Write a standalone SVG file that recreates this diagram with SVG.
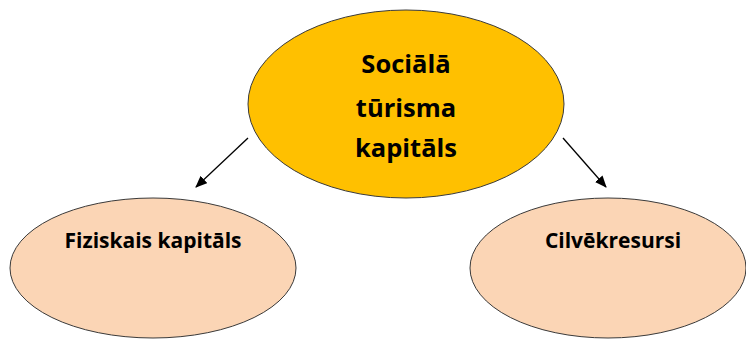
<svg xmlns="http://www.w3.org/2000/svg" width="746" height="339" viewBox="0 0 746 339">
<defs>
<style>
.node ellipse{stroke:#3a3a3a;stroke-width:1}
.t{font-family:"Open Sans",Lato,"Liberation Sans",sans-serif;font-weight:bold;fill:#000;text-anchor:middle}
.conn line{stroke:#000;stroke-width:1.3;marker-end:url(#ah)}
</style>
<marker id="ah" viewBox="0 0 12 10" refX="11" refY="5" markerWidth="12" markerHeight="10" markerUnits="userSpaceOnUse" orient="auto">
<path d="M0,0 L12,5 L0,10 z" fill="#000"/>
</marker>
</defs>
<rect width="746" height="339" fill="#fff"/>
<g id="connectors" class="conn">
<line x1="248" y1="138" x2="196" y2="187"/>
<line x1="563" y1="138" x2="606" y2="187"/>
</g>
<g id="top" class="node">
<ellipse cx="406" cy="104" rx="158" ry="94" fill="#FFC000"/>
<text class="t" x="406" y="73" font-size="25.5">Sociālā</text>
<text class="t" x="406" y="117" font-size="25.5">tūrisma</text>
<text class="t" x="406" y="157" font-size="25.5">kapitāls</text>
</g>
<g id="left" class="node">
<ellipse cx="153" cy="268" rx="143" ry="70" fill="#FBD5B5"/>
<text class="t" x="153" y="248" font-size="21">Fiziskais kapitāls</text>
</g>
<g id="right" class="node">
<ellipse cx="608" cy="268" rx="138" ry="70" fill="#FBD5B5"/>
<text class="t" x="613" y="248" font-size="21">Cilvēkresursi</text>
</g>
</svg>
